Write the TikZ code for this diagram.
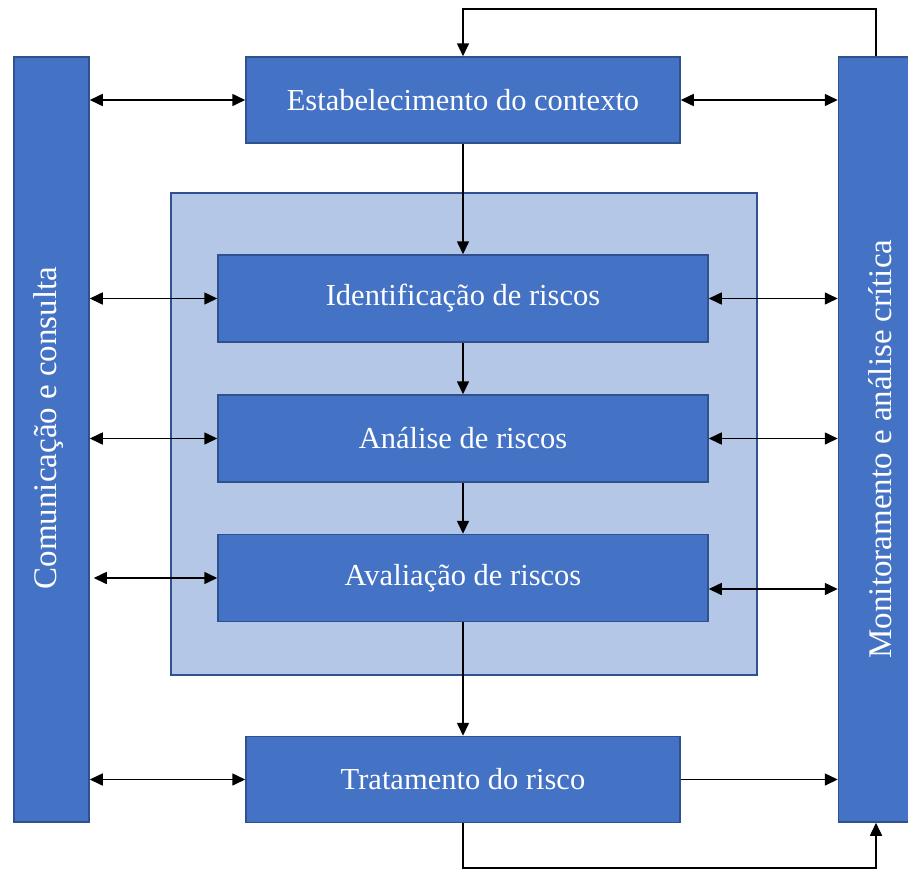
\documentclass[tikz,border=0pt]{standalone}
\usepackage{fontspec}
\setmainfont{Liberation Serif}
\usepackage{tikz}
\usetikzlibrary{positioning,arrows.meta}
\definecolor{boxblue}{HTML}{4472C4}
\definecolor{edgeblue}{HTML}{2F528F}
\definecolor{paleblue}{HTML}{B4C7E7}

\begin{document}
\begin{tikzpicture}[x=1pt, y=-1pt,
        block/.style={rectangle, draw=edgeblue, fill=boxblue, line width=1.5pt, text=white, inner sep=0pt, font=\fontsize{30.5}{36}\selectfont},
        bar/.style={block, minimum width=75pt, minimum height=765pt},
        wide/.style={block, minimum width=434pt, minimum height=86pt},
        inner/.style={block, minimum width=490pt, minimum height=87pt},
        vtext/.style={rotate=90, text=white, font=\fontsize{33}{38}\selectfont},
        arr/.style={draw, line width=1.6pt, -{Triangle[length=13pt,width=12pt]}},
        dbl/.style={draw, line width=1.6pt, {Triangle[length=13pt,width=12pt]}-{Triangle[length=13pt,width=12pt]}}
    ]
        \useasboundingbox (0,0) rectangle (908,871);

        % Panel
        \node[rectangle, draw=edgeblue, fill=paleblue, line width=1.5pt, minimum width=586pt, minimum height=482pt] (panel) at (464,434) {};

        % Side bars
        \node[bar] (lbar) at (51.5,439.5) {};
        \node[bar] (rbar) at (876,439.5) {};
        \node[vtext] (ltxt) at (49,428) {Comunicação e consulta};
        \node[vtext] (rtxt) at (880,449) {Monitoramento e análise crítica};

        % Steps
        \node[wide] (estab) at (463,100) {Estabelecimento do contexto};
        \node[inner] (ident) at (463,298.5) {Identificação de riscos};
        \node[inner] (anal) at (463,438.5) {Análise de riscos};
        \node[inner] (aval) at (463,578) {Avaliação de riscos};
        \node[wide] (trat) at (463,779.5) {Tratamento do risco};

        \coordinate (topy) at (0,9);
        \coordinate (boty) at (0,868);

        % Flow
        \draw[arr] (estab) -- (ident);
        \draw[arr] (ident) -- (anal);
        \draw[arr] (anal) -- (aval);
        \draw[arr] (aval) -- (trat);
        \draw[arr] (rbar.north) -- (rbar.north |- topy) -| (estab.north);
        \draw[arr] (trat.south) -- (trat.south |- boty) -| (rbar.south);

        % Left links
        \draw[dbl] (lbar.east |- estab.west) -- (estab.west);
        \draw[dbl] (lbar.east |- ident.west) -- (ident.west);
        \draw[dbl] (lbar.east |- anal.west) -- (anal.west);
        \draw[dbl] ([xshift=4pt]lbar.east |- aval.west) -- (aval.west);
        \draw[dbl] (lbar.east |- trat.west) -- (trat.west);

        % Right links
        \draw[dbl] (estab.east) -- (estab.east -| rbar.west);
        \draw[dbl] (ident.east) -- (ident.east -| rbar.west);
        \draw[dbl] (anal.east) -- (anal.east -| rbar.west);
        \draw[dbl] ([yshift=-11pt]aval.east) -- ([yshift=-11pt]aval.east -| rbar.west);
        \draw[arr] (trat.east) -- (trat.east -| rbar.west);
    \end{tikzpicture}
\end{document}
